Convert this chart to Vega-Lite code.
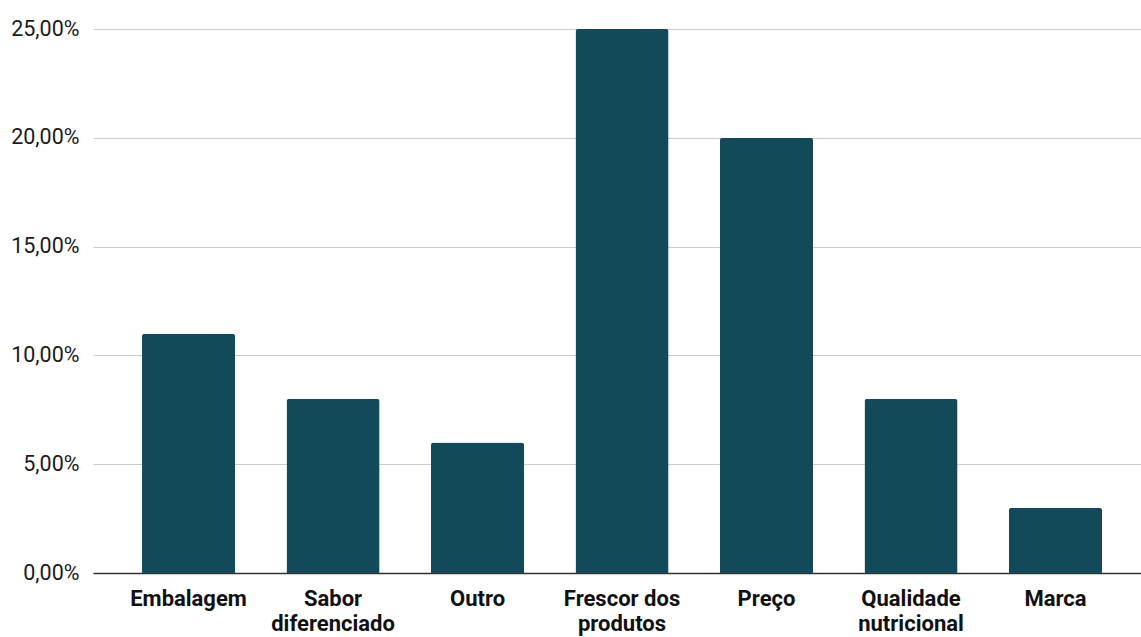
{
  "$schema": "https://vega.github.io/schema/vega-lite/v6.json",
  "autosize": "none",
  "width": 1048,
  "height": 544,
  "padding": {"left": 93, "top": 29, "right": 0, "bottom": 64},
  "background": "#ffffff",
  "config": {
    "view": {"stroke": null},
    "font": "Roboto"
  },
  "data": {
    "values": [
      {"fator": "Embalagem", "pct": 0.11},
      {"fator": "Sabor diferenciado", "pct": 0.08},
      {"fator": "Outro", "pct": 0.06},
      {"fator": "Frescor dos produtos", "pct": 0.25},
      {"fator": "Preço", "pct": 0.20},
      {"fator": "Qualidade nutricional", "pct": 0.08},
      {"fator": "Marca", "pct": 0.03}
    ]
  },
  "mark": {"type": "bar", "color": "#124a5a", "cornerRadiusTopLeft": 2.5, "cornerRadiusTopRight": 2.5},
  "encoding": {
    "x": {
      "field": "fator",
      "type": "nominal",
      "sort": null,
      "title": null,
      "scale": {"paddingInner": 0.356, "paddingOuter": 0.3045, "align": 0.557},
      "axis": {
        "labelAngle": 0,
        "labelFont": "Roboto",
        "labelFontSize": 22,
        "labelFontWeight": "bold",
        "labelColor": "#111111",
        "labelPadding": 15,
        "labelLineHeight": 25.5,
        "labelBaseline": "top",
        "ticks": false,
        "domainColor": "#333333",
        "domainWidth": 1.5,
        "labelExpr": "datum.label == 'Frescor dos produtos' ? ['Frescor dos', 'produtos'] : split(datum.label, ' ')"
      }
    },
    "y": {
      "field": "pct",
      "type": "quantitative",
      "title": null,
      "scale": {"domain": [0, 0.25], "nice": false},
      "axis": {
        "values": [0, 0.05, 0.1, 0.15, 0.2, 0.25],
        "labelExpr": "replace(format(datum.value, '.2%'), '.', ',')",
        "labelFont": "Roboto",
        "labelFontSize": 21.5,
        "labelColor": "#1a1a1a",
        "labelPadding": 14,
        "ticks": false,
        "domain": false,
        "gridColor": "#cccccc",
        "gridWidth": 1.2
      }
    }
  }
}
